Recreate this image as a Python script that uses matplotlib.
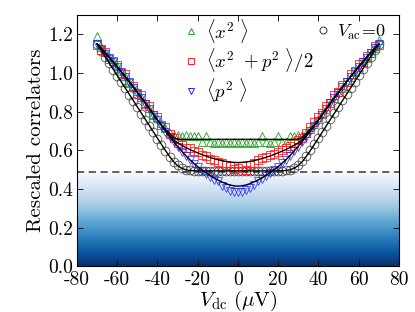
import numpy as np
import matplotlib
matplotlib.use("Agg")
import matplotlib.pyplot as plt
from matplotlib.lines import Line2D

plt.rcParams['font.family'] = 'serif'
plt.rcParams['font.serif'] = ['cmr10', 'DejaVu Serif']
plt.rcParams['mathtext.fontset'] = 'cm'
plt.rcParams['axes.unicode_minus'] = False
plt.rcParams['axes.formatter.use_mathtext'] = False

# ---------------- data ----------------
V = [-70, -68, -66, -64, -62, -60, -58, -56, -54, -52, -50, -48, -46, -44, -42,
     -40, -38, -36, -34, -32, -30, -28, -26, -24, -22, -20, -18, -16, -14, -12,
     -10, -8, -6, -4, -2, 0, 2, 4, 6, 8, 10, 12, 14, 16, 18, 20, 22, 24, 26, 28,
     30, 32, 34, 36, 38, 40, 42, 44, 46, 48, 50, 52, 54, 56, 58, 60, 62, 64, 66,
     68, 70]

x2_data = [1.19, 1.135, 1.11, 1.085, 1.06, 1.035, 1.01, .985, .955, .93, .905,
           .875, .845, .82, .79, .765, .74, .715, .69, .68, .678, .675, .678,
           .672, .676, .672, .645, .675, .642, .640, .642, .640, .642, .640,
           .642, .640, .642, .640, .641, .640, .642, .675, .641, .640, .642,
           .675, .641, .642, .675, .676, .678, .68, .69, .712, .737, .76, .788,
           .815, .845, .872, .9, .925, .955, .98, 1.005, 1.03, 1.055, 1.08,
           1.105, 1.13, 1.17]

xp_data = [1.145, 1.12, 1.11, 1.07, 1.06, 1.04, 1.0, .995, .95, .935, .89, .885,
           .84, .83, .785, .775, .73, .72, .685, .665, .64, .63, .612, .61, .595,
           .59, .575, .572, .558, .55, .54, .535, .525, .52, .505, .51, .52, .5,
           .525, .535, .548, .56, .565, .575, .582, .59, .60, .612, .625, .64,
           .655, .665, .69, .72, .745, .77, .795, .83, .845, .885, .9, .94, .955,
           .995, 1.01, 1.045, 1.055, 1.09, 1.105, 1.14, 1.145]

p2_data = [1.15, 1.125, 1.1, 1.078, 1.055, 1.03, 1.005, .98, .952, .925, .898,
           .87, .842, .814, .785, .755, .725, .696, .668, .642, .618, .594, .571,
           .55, .531, .512, .495, .478, .462, .447, .44, .418, .403, .392, .385,
           .383, .386, .393, .405, .42, .442, .45, .465, .482, .498, .515, .533,
           .552, .573, .596, .62, .645, .671, .698, .726, .754, .785, .814, .843,
           .871, .899, .926, .953, .98, 1.005, 1.03, 1.055, 1.08, 1.104, 1.127,
           1.15]

vac0_data = [1.15, 1.115, 1.083, 1.05, 1.018, .985, .952, .92, .888, .855, .822,
             .79, .758, .725, .693, .66, .628, .598, .568, .542, .522, .508, .5,
             .497, .495, .494, .493, .495, .493, .494, .492, .494, .493, .495,
             .492, .494, .493, .495, .492, .494, .493, .495, .494, .492, .494,
             .495, .496, .497, .501, .509, .522, .543, .57, .6, .632, .664, .696,
             .728, .761, .793, .826, .858, .89, .923, .955, .988, 1.02, 1.053,
             1.085, 1.118, 1.15]

# fit curves
VF = [-70, -65, -60, -55, -50, -45, -40, -38, -36, -34, -32, -30, -28, -26, -24,
      -22, -20, -18, -16, -14, -12, -10, -8, -6, -4, -2, 0, 2, 4, 6, 8, 10, 12,
      14, 16, 18, 20, 22, 24, 26, 28, 30, 32, 34, 36, 38, 40, 45, 50, 55, 60,
      65, 70]

x2_fit = [1.15, 1.093, 1.032, .968, .9, .83, .758, .733, .709, .687, .668, .658,
          .657, .657, .657, .657, .657, .657, .657, .657, .657, .657, .657, .657,
          .657, .657, .657, .657, .657, .657, .657, .657, .657, .657, .657, .657,
          .657, .657, .657, .657, .657, .658, .668, .687, .709, .733, .758, .83,
          .9, .968, 1.032, 1.093, 1.15]

xp_fit = [1.15, 1.093, 1.032, .968, .9, .83, .757, .731, .704, .678, .655, .639,
          .627, .616, .605, .596, .587, .579, .571, .564, .558, .552, .547, .543,
          .540, .538, .537, .538, .540, .543, .547, .552, .558, .564, .571, .579,
          .587, .596, .605, .616, .627, .639, .655, .678, .704, .731, .757, .83,
          .9, .968, 1.032, 1.093, 1.15]

p2_fit = [1.15, 1.093, 1.032, .968, .9, .83, .756, .727, .699, .672, .646, .621,
          .597, .574, .553, .534, .516, .500, .485, .471, .458, .447, .437, .428,
          .421, .417, .415, .417, .421, .428, .437, .447, .458, .471, .485, .500,
          .516, .534, .553, .574, .597, .621, .646, .672, .699, .727, .756, .83,
          .9, .968, 1.032, 1.093, 1.15]

vac0_fit = [1.15, 1.069, .987, .906, .825, .744, .663, .631, .599, .569, .542,
            .521, .508, .500, .496, .495, .494, .494, .494, .494, .494, .494,
            .494, .494, .494, .494, .494, .494, .494, .494, .494, .494, .494,
            .494, .494, .494, .494, .495, .496, .500, .508, .521, .542, .569,
            .599, .631, .663, .744, .825, .906, .987, 1.069, 1.15]

vacuum_level = 0.488
x_ticks = [-80, -60, -40, -20, 0, 20, 40, 60, 80]
y_ticks = [0.0, 0.2, 0.4, 0.6, 0.8, 1.0, 1.2]

# ---------------- figure ----------------
fig = plt.figure(figsize=(4.15, 3.12), dpi=100)
ax = fig.add_axes([0.1855, 0.146, 0.7755, 0.806])

# gradient below vacuum level (white at the dashed line, dark at zero)
grad = np.linspace(0, 1, 256).reshape(-1, 1)
ax.imshow(grad, cmap='Blues', vmin=0, vmax=1.0, aspect='auto',
          extent=[-80, 80, 0, vacuum_level], origin='upper', zorder=0,
          interpolation='bilinear')
ax.axhline(vacuum_level, color='#555555', ls=(0, (4, 2.5)), lw=1.3, zorder=1)

GREEN = '#22a022'
RED = '#ff2020'
BLUE = '#2020ff'
GREY = '#333333'

ms = 6.3
lw_m = 0.6
ax.plot(V, vac0_data, ls='none', marker='o', ms=ms, mfc='none', mec=GREY,
        mew=lw_m, alpha=0.85, zorder=2)
ax.plot(V, x2_data, ls='none', marker='^', ms=ms, mfc='none', mec=GREEN,
        mew=lw_m, zorder=3)
ax.plot(V, xp_data, ls='none', marker='s', ms=ms, mfc='none', mec=RED,
        mew=lw_m, zorder=4)
ax.plot(V, p2_data, ls='none', marker='v', ms=ms, mfc='none', mec=BLUE,
        mew=lw_m, alpha=0.85, zorder=5)

for fit in (x2_fit, xp_fit, p2_fit, vac0_fit):
    ax.plot(VF, fit, color='black', lw=1.0, zorder=6)

ax.set_xlim(-80, 80)
ax.set_ylim(0, 1.3)
ax.set_xticks(x_ticks)
ax.set_xticklabels([str(t) for t in x_ticks])
ax.set_yticks(y_ticks)
ax.set_yticklabels(['%.1f' % t for t in y_ticks])
ax.tick_params(direction='in', top=True, right=True, length=4, width=0.6,
               labelsize=14, pad=3)
for sp in ax.spines.values():
    sp.set_linewidth(0.8)

ax.set_xlabel(r'$V_{\rm dc}\ (\mu{\rm V})$', fontsize=15, labelpad=0)
ax.set_ylabel('Rescaled correlators', fontsize=15, labelpad=2)

h1 = [Line2D([], [], ls='none', marker='^', ms=5, mfc='none', mec=GREEN, mew=0.7),
      Line2D([], [], ls='none', marker='s', ms=5, mfc='none', mec=RED, mew=0.7),
      Line2D([], [], ls='none', marker='v', ms=5, mfc='none', mec=BLUE, mew=0.7)]
labels1 = [r'$\langle x^2\ \rangle$', r'$\langle x^2\ +p^2\ \rangle/2$',
           r'$\langle p^2\ \rangle$']
leg1 = ax.legend(h1, labels1, loc='upper left', bbox_to_anchor=(0.29, 1.045),
                 frameon=False, fontsize=13.5, handlelength=0.8,
                 handletextpad=0.4, labelspacing=0.08, borderpad=0.2)
ax.add_artist(leg1)
h2 = [Line2D([], [], ls='none', marker='o', ms=5, mfc='none', mec=GREY, mew=0.7)]
ax.legend(h2, [r'$V_{\rm ac}\!=\!0$'], loc='upper right',
          bbox_to_anchor=(1.0, 1.02), frameon=False, fontsize=13,
          handlelength=0.8, handletextpad=0.4, borderpad=0.2)

fig.savefig('out.png', dpi=100)
